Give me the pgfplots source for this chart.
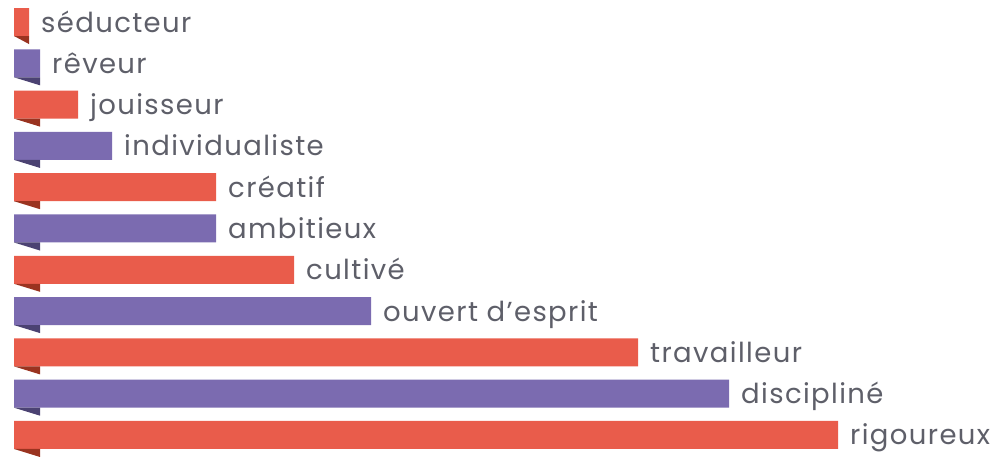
\documentclass[border=0pt]{standalone}
\usepackage{pgfplots}
\pgfplotsset{compat=1.18}
\usepackage{fontspec}
\setmainfont{Poppins}[LetterSpace=5]
\definecolor{cred}{HTML}{E95C4B}
\definecolor{cpur}{HTML}{7B6BB0}
\definecolor{cred2}{HTML}{9A3320}
\definecolor{cpur2}{HTML}{4B4272}
\definecolor{ctext}{HTML}{5E5F69}
\begin{document}
\begin{tikzpicture}
\begin{axis}[
  scale only axis, width=1002pt, height=458pt,
  xmin=-14, xmax=988, ymin=-0.533, ymax=10.557, y dir=reverse,
  hide axis, clip=false,
  every node near coord/.append style={anchor=base west, xshift=12pt, yshift=-10pt,
    font=\fontsize{27.5}{32}\selectfont, text=ctext, inner sep=0pt},
]
\addplot[xbar, bar width=28pt, bar shift=0pt, fill=cred, draw=none,
  nodes near coords, point meta=explicit symbolic]
  coordinates {(15,0)[séducteur] (64,2)[jouisseur] (202,4)[créatif] (280,6)[cultivé] (624,8)[travailleur] (824,10)[rigoureux]};
\addplot[xbar, bar width=28pt, bar shift=0pt, fill=cpur, draw=none,
  nodes near coords, point meta=explicit symbolic]
  coordinates {(26,1)[rêveur] (98,3)[individualiste] (202,5)[ambitieux] (357,7)[ouvert d’esprit] (715,9)[discipliné]};
% folds
\addplot[fill=cred2, draw=none] coordinates {(0,0.339) (15,0.339) (15,0.533)} -- cycle;
\addplot[fill=cpur2, draw=none] coordinates {(0,1.339) (26,1.339) (26,1.533)} -- cycle;
\addplot[fill=cred2, draw=none] coordinates {(0,2.339) (26,2.339) (26,2.533)} -- cycle;
\addplot[fill=cpur2, draw=none] coordinates {(0,3.339) (26,3.339) (26,3.533)} -- cycle;
\addplot[fill=cred2, draw=none] coordinates {(0,4.339) (26,4.339) (26,4.533)} -- cycle;
\addplot[fill=cpur2, draw=none] coordinates {(0,5.339) (26,5.339) (26,5.533)} -- cycle;
\addplot[fill=cred2, draw=none] coordinates {(0,6.339) (26,6.339) (26,6.533)} -- cycle;
\addplot[fill=cpur2, draw=none] coordinates {(0,7.339) (26,7.339) (26,7.533)} -- cycle;
\addplot[fill=cred2, draw=none] coordinates {(0,8.339) (26,8.339) (26,8.533)} -- cycle;
\addplot[fill=cpur2, draw=none] coordinates {(0,9.339) (26,9.339) (26,9.533)} -- cycle;
\addplot[fill=cred2, draw=none] coordinates {(0,10.339) (26,10.339) (26,10.533)} -- cycle;
\end{axis}
\pgfresetboundingbox
\path (current axis.south west) rectangle (current axis.north east);
\end{tikzpicture}
\end{document}
